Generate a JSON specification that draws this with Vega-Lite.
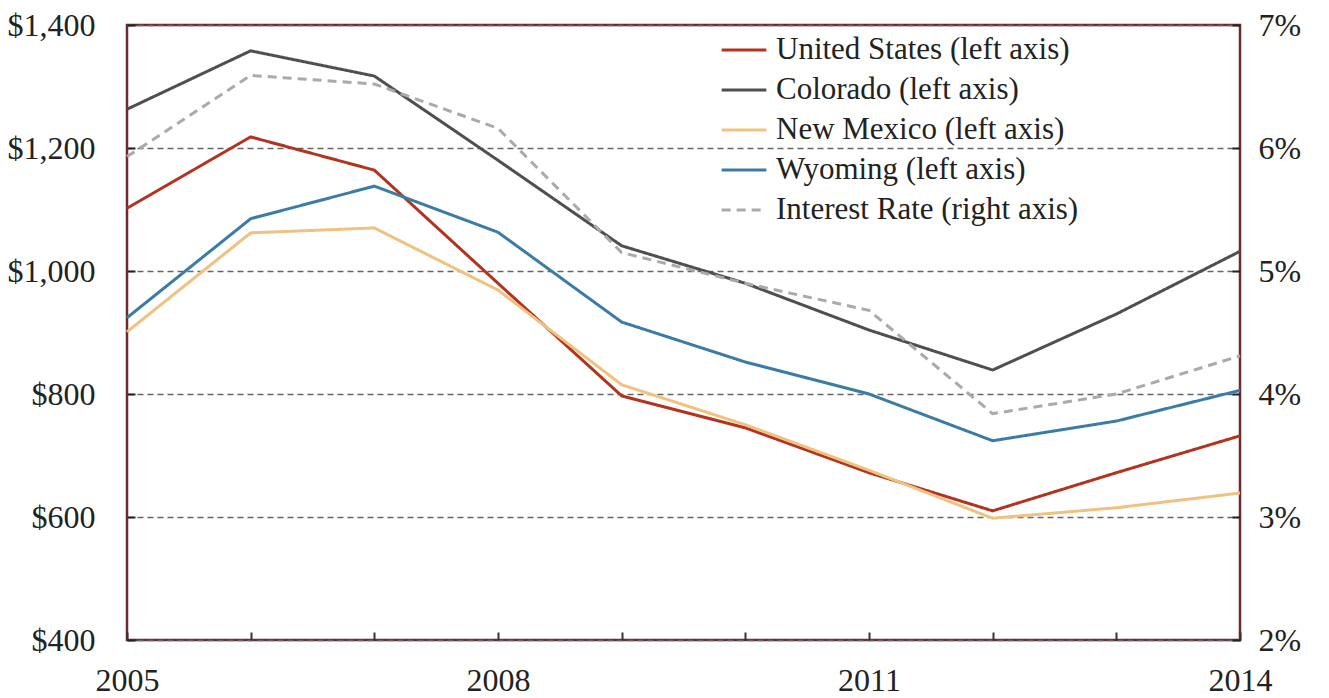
{
  "$schema": "https://vega.github.io/schema/vega-lite/v6.json",
  "width": 1113,
  "height": 615,
  "autosize": "none",
  "padding": {"left": 127, "top": 25, "right": 89, "bottom": 58},
  "background": "white",
  "config": {
    "font": "Liberation Serif",
    "view": {"stroke": "#6e2a2e", "strokeWidth": 2.5},
    "axis": {"labelFont": "Liberation Serif", "labelColor": "#222222", "labelFontSize": 32, "domain": false, "title": null}
  },
  "data": {"values": [
    {"year": 2005, "series": "United States (left axis)", "value": 1102},
    {"year": 2006, "series": "United States (left axis)", "value": 1218},
    {"year": 2007, "series": "United States (left axis)", "value": 1164},
    {"year": 2008, "series": "United States (left axis)", "value": 980},
    {"year": 2009, "series": "United States (left axis)", "value": 797},
    {"year": 2010, "series": "United States (left axis)", "value": 745},
    {"year": 2011, "series": "United States (left axis)", "value": 672},
    {"year": 2012, "series": "United States (left axis)", "value": 610},
    {"year": 2013, "series": "United States (left axis)", "value": 672},
    {"year": 2014, "series": "United States (left axis)", "value": 732},
    {"year": 2005, "series": "Colorado (left axis)", "value": 1263},
    {"year": 2006, "series": "Colorado (left axis)", "value": 1358},
    {"year": 2007, "series": "Colorado (left axis)", "value": 1317},
    {"year": 2008, "series": "Colorado (left axis)", "value": 1180},
    {"year": 2009, "series": "Colorado (left axis)", "value": 1041},
    {"year": 2010, "series": "Colorado (left axis)", "value": 980},
    {"year": 2011, "series": "Colorado (left axis)", "value": 904},
    {"year": 2012, "series": "Colorado (left axis)", "value": 839},
    {"year": 2013, "series": "Colorado (left axis)", "value": 930},
    {"year": 2014, "series": "Colorado (left axis)", "value": 1032},
    {"year": 2005, "series": "New Mexico (left axis)", "value": 901},
    {"year": 2006, "series": "New Mexico (left axis)", "value": 1062},
    {"year": 2007, "series": "New Mexico (left axis)", "value": 1070},
    {"year": 2008, "series": "New Mexico (left axis)", "value": 969},
    {"year": 2009, "series": "New Mexico (left axis)", "value": 815},
    {"year": 2010, "series": "New Mexico (left axis)", "value": 750},
    {"year": 2011, "series": "New Mexico (left axis)", "value": 676},
    {"year": 2012, "series": "New Mexico (left axis)", "value": 598},
    {"year": 2013, "series": "New Mexico (left axis)", "value": 615},
    {"year": 2014, "series": "New Mexico (left axis)", "value": 639},
    {"year": 2005, "series": "Wyoming (left axis)", "value": 924},
    {"year": 2006, "series": "Wyoming (left axis)", "value": 1085},
    {"year": 2007, "series": "Wyoming (left axis)", "value": 1138},
    {"year": 2008, "series": "Wyoming (left axis)", "value": 1063},
    {"year": 2009, "series": "Wyoming (left axis)", "value": 917},
    {"year": 2010, "series": "Wyoming (left axis)", "value": 852},
    {"year": 2011, "series": "Wyoming (left axis)", "value": 800},
    {"year": 2012, "series": "Wyoming (left axis)", "value": 724},
    {"year": 2013, "series": "Wyoming (left axis)", "value": 756},
    {"year": 2014, "series": "Wyoming (left axis)", "value": 806},
    {"year": 2005, "series": "Interest Rate (right axis)", "value": 5.93},
    {"year": 2006, "series": "Interest Rate (right axis)", "value": 6.59},
    {"year": 2007, "series": "Interest Rate (right axis)", "value": 6.52},
    {"year": 2008, "series": "Interest Rate (right axis)", "value": 6.16},
    {"year": 2009, "series": "Interest Rate (right axis)", "value": 5.15},
    {"year": 2010, "series": "Interest Rate (right axis)", "value": 4.9},
    {"year": 2011, "series": "Interest Rate (right axis)", "value": 4.68},
    {"year": 2012, "series": "Interest Rate (right axis)", "value": 3.84},
    {"year": 2013, "series": "Interest Rate (right axis)", "value": 4.0},
    {"year": 2014, "series": "Interest Rate (right axis)", "value": 4.31}
  ]},
  "encoding": {
    "x": {
      "field": "year", "type": "quantitative",
      "scale": {"domain": [2005, 2014], "nice": false, "zero": false},
      "axis": {
        "values": [2005, 2006, 2007, 2008, 2009, 2010, 2011, 2012, 2013, 2014],
        "labelExpr": "(datum.value - 2005) % 3 == 0 ? format(datum.value, 'd') : ''",
        "grid": false, "tickSize": -8, "tickColor": "#333333", "tickWidth": 2,
        "labelPadding": 33, "labelFlush": false, "labelOverlap": false
      }
    },
    "color": {
      "field": "series", "type": "nominal",
      "scale": {
        "domain": ["United States (left axis)", "Colorado (left axis)", "New Mexico (left axis)", "Wyoming (left axis)", "Interest Rate (right axis)"],
        "range": ["#b4331f", "#4f4f4f", "#f0c27f", "#3b7ca6", "#aaaaaa"]
      },
      "legend": {
        "title": null, "orient": "none", "legendX": 593, "legendY": 1,
        "symbolType": "stroke", "symbolSize": 2000, "symbolStrokeWidth": 3,
        "labelFontSize": 31, "labelColor": "#222222", "labelFont": "Liberation Serif",
        "labelOffset": 8, "rowPadding": 1, "labelLimit": 500
      }
    },
    "strokeDash": {
      "field": "series", "type": "nominal",
      "scale": {
        "domain": ["United States (left axis)", "Colorado (left axis)", "New Mexico (left axis)", "Wyoming (left axis)", "Interest Rate (right axis)"],
        "range": [[1, 0], [1, 0], [1, 0], [1, 0], [9, 6]]
      },
      "legend": {
        "title": null, "orient": "none", "legendX": 593, "legendY": 1,
        "symbolType": "stroke", "symbolSize": 2000, "symbolStrokeWidth": 3,
        "labelFontSize": 31, "labelColor": "#222222", "labelFont": "Liberation Serif",
        "labelOffset": 8, "rowPadding": 1, "labelLimit": 500
      }
    }
  },
  "layer": [
    {
      "transform": [{"filter": "datum.series != 'Interest Rate (right axis)'"}],
      "mark": {"type": "line", "strokeWidth": 3},
      "encoding": {
        "y": {
          "field": "value", "type": "quantitative",
          "scale": {"domain": [400, 1400], "nice": false, "zero": false},
          "axis": {
            "orient": "left", "values": [400, 600, 800, 1000, 1200, 1400],
            "format": "$,.0f", "grid": true, "gridColor": "#666666", "gridDash": [6, 4], "gridWidth": 1.5,
            "tickSize": -8, "tickColor": "#222222", "tickWidth": 2, "labelPadding": 40
          }
        }
      }
    },
    {
      "transform": [{"filter": "datum.series == 'Interest Rate (right axis)'"}],
      "mark": {"type": "line", "strokeWidth": 3},
      "encoding": {
        "y": {
          "field": "value", "type": "quantitative",
          "scale": {"domain": [2, 7], "nice": false, "zero": false},
          "axis": {
            "orient": "right", "values": [2, 3, 4, 5, 6, 7],
            "labelExpr": "datum.value + '%'", "grid": false,
            "tickSize": -8, "tickColor": "#222222", "tickWidth": 2, "labelPadding": 26
          }
        }
      }
    }
  ],
  "resolve": {"scale": {"y": "independent"}}
}
